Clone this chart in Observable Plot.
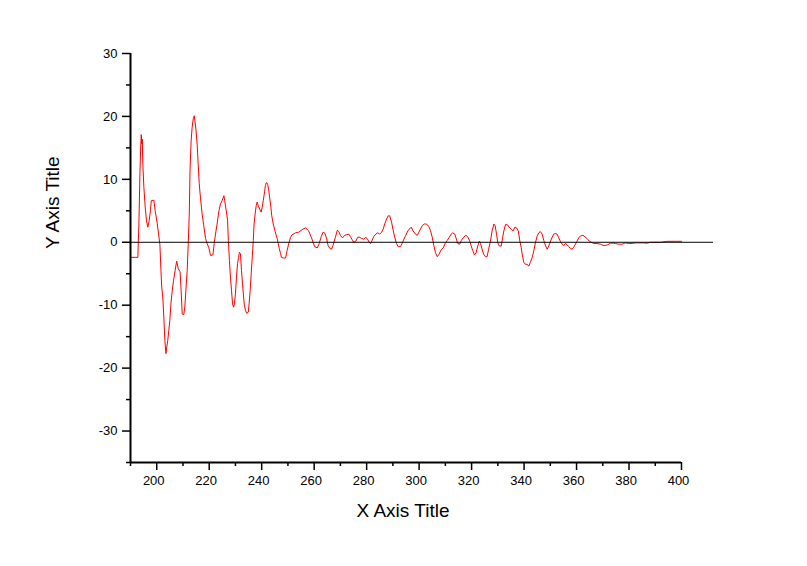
<!DOCTYPE html>
<html>
<head>
<meta charset="utf-8">
<script src="https://cdn.jsdelivr.net/npm/d3@7"></script>
<script src="https://cdn.jsdelivr.net/npm/@observablehq/plot@0.6"></script>
<style>
  html, body { margin: 0; padding: 0; background: #fff; }
  #chart svg { display: block; overflow: visible; }
</style>
</head>
<body>
<div id="chart"></div>
<script>
// ---- data ----
const xs = [190,192.8,193.2,193.6,193.9,194.1,194.3,194.5,194.7,195.1,195.6,196.1,196.6,197.1,197.6,197.9,198.9,199.4,200.2,200.7,201.2,201.6,201.9,202.3,202.7,203.1,203.5,203.8,204.2,204.6,205.0,205.4,205.9,206.4,207.0,207.6,208.2,208.9,209.3,209.7,210.3,210.7,211.1,211.6,212.0,212.4,212.7,213.1,213.5,213.9,214.3,214.7,215.0,215.4,215.8,216.2,216.7,217.3,217.9,218.6,219.2,219.8,220.5,221.4,221.9,222.4,223.0,223.7,224.3,224.9,225.6,225.9,226.5,227.0,227.3,227.7,228.1,228.5,228.9,229.3,229.6,230.0,230.4,230.8,231.2,231.5,231.9,232.3,232.7,233.1,233.4,233.8,234.3,234.9,235.2,235.6,236.0,236.4,236.8,237.1,237.5,237.9,238.3,238.7,239.2,239.8,240.2,240.6,241.1,241.4,241.8,242.3,242.7,243.1,243.5,243.8,244.4,244.9,245.4,245.9,246.3,246.7,247.2,247.5,248.3,249.1,249.7,250.3,251.0,251.6,252.9,254.1,255.4,256.7,257.9,258.9,259.6,260.2,261.2,261.9,262.7,263.4,264.0,264.7,265.3,266.0,266.6,267.2,268.1,268.8,269.4,270.0,270.8,271.6,272.3,273.2,273.8,274.5,275.1,275.9,276.6,277.4,278.1,278.9,279.7,280.3,281.0,281.5,282.1,282.7,283.5,284.2,285.0,285.7,286.3,286.9,287.6,288.2,288.8,289.5,290.1,290.7,291.4,292.0,292.9,293.5,294.2,294.9,295.7,296.3,297.0,297.7,298.6,299.3,299.9,300.5,301.3,302.0,302.8,303.7,304.3,305.0,305.6,306.2,306.9,307.6,308.4,309.2,309.9,310.7,311.5,312.2,312.8,313.6,314.2,314.7,315.5,316.1,317.0,317.8,318.5,319.2,319.8,320.4,321.1,321.7,322.4,323.0,323.4,324.0,324.6,325.3,325.9,326.5,327.2,327.8,328.5,329.0,329.5,330.0,330.6,331.3,331.8,332.3,332.9,333.6,334.3,335.1,335.8,336.5,337.1,337.8,338.4,338.9,339.4,339.9,340.5,341.2,341.8,342.4,343.1,343.7,344.3,345.0,345.6,346.2,346.9,347.5,348.2,348.8,349.4,350.1,350.7,351.3,352.0,352.6,353.2,353.9,354.5,355.1,355.8,356.4,357.0,357.7,358.3,358.9,359.6,360.2,360.8,361.5,362.4,363.1,364.0,364.8,365.6,366.6,367.8,369.1,370.1,371.1,371.9,372.9,374.0,374.8,376.1,377.4,378.6,379.9,381.2,382.5,383.7,385.6,386.9,388.2,392.0,394.6,397.7,400];
const ys = [-2.4,-2.4,2.9,11.1,15.3,17.1,15.6,16.4,12.4,8.7,5.6,3.4,2.4,3.4,5.0,6.6,6.7,5.0,3.0,1.3,-0.3,-4.5,-7.1,-8.7,-11.9,-15.6,-17.7,-16.7,-15.6,-14.0,-12.4,-9.8,-7.7,-6.1,-4.5,-3.0,-4.2,-4.7,-7.7,-11.4,-11.5,-10.3,-7.7,-4.5,-0.3,4.5,11.6,16.1,18.3,19.6,20.1,18.8,17.7,15.6,12.4,9.3,6.9,4.5,2.7,0.6,-0.2,-0.8,-2.1,-2.0,-0.2,1.3,2.9,5.0,6.1,6.6,7.4,6.6,5.0,3.5,0.3,-2.9,-5.5,-7.7,-9.8,-10.3,-9.8,-8.2,-5.5,-3.4,-2.4,-1.6,-1.8,-4.5,-6.6,-8.7,-10.0,-10.8,-11.3,-11.1,-9.8,-7.7,-5.0,-2.4,0.3,2.9,4.5,5.8,6.4,5.8,5.3,4.8,5.6,6.6,8.0,9.0,9.5,9.2,8.2,6.9,5.6,4.3,2.9,2.1,1.3,0.6,-0.2,-1.0,-1.8,-2.4,-2.5,-2.5,-1.3,-0.2,0.8,1.2,1.5,1.6,2.0,2.3,1.8,0.8,0.0,-0.7,-0.9,-0.2,0.9,1.6,1.5,0.7,-0.5,-1.0,-1.1,-0.5,0.8,1.9,1.7,1.1,0.7,1.1,1.2,1.3,0.9,0.4,0.0,0.2,0.8,0.8,0.6,0.5,0.8,0.5,0.0,-0.2,0.3,0.9,1.3,1.5,1.3,1.6,2.1,2.9,3.7,4.2,4.2,3.2,1.9,0.8,-0.2,-0.7,-0.7,-0.2,0.5,1.1,1.8,2.1,2.4,1.8,1.3,1.1,1.6,2.1,2.7,2.9,2.9,2.5,1.9,0.8,-0.5,-1.6,-2.3,-1.9,-1.2,-0.9,-0.2,0.3,0.8,1.3,1.5,1.3,0.5,-0.2,-0.3,0.3,0.8,1.1,0.9,0.3,-0.5,-1.3,-2.0,-1.7,-0.5,0.2,-0.2,-1.1,-1.9,-2.3,-2.3,-1.1,0.2,1.8,2.9,2.6,1.3,-0.1,-0.6,-0.6,0.7,1.8,2.8,2.8,2.4,2.1,1.8,2.4,2.3,1.8,0.2,-0.8,-2.2,-3.2,-3.5,-3.5,-3.8,-3.2,-2.4,-1.4,-0.1,1.0,1.5,1.7,1.3,0.3,-0.6,-1.1,-0.6,0.2,0.8,1.3,1.4,1.3,0.7,0.1,-0.3,-0.5,-0.2,-0.4,-0.7,-1.0,-1.1,-0.8,-0.3,0.2,0.7,1.0,1.1,0.9,0.6,0.2,0.0,-0.2,-0.2,-0.3,-0.5,-0.5,-0.4,-0.15,-0.15,-0.2,-0.3,-0.3,-0.1,-0.2,-0.2,-0.1,-0.1,-0.1,-0.15,0.0,0.0,0.15,0.15,0.15];

const xDomain = [190, 400];
const yDomain = [-35, 30];
const xMajor = [200, 220, 240, 260, 280, 300, 320, 340, 360, 380, 400];
const xMinor = [190, 210, 230, 250, 270, 290, 310, 330, 350, 370, 390];
const yMajor = [-30, -20, -10, 0, 10, 20, 30];
const yMinor = [-35, -25, -15, -5, 5, 15, 25];
const zeroLine = {y: 0, from: 190, to: 412.2};
const xTitle = "X Axis Title";
const yTitle = "Y Axis Title";

const fmt = d => String(d);

const chart = Plot.plot({
  width: 807,
  height: 566,
  marginLeft: 130,
  marginRight: 126,
  marginTop: 53,
  marginBottom: 104,
  style: {fontFamily: "'Liberation Sans', Arial, sans-serif", fontSize: "13px", background: "#fff", color: "#000"},
  x: {domain: xDomain},
  y: {domain: yDomain},
  marks: [
    Plot.line({length: xs.length}, {x: xs, y: ys, stroke: "#ff0000", strokeWidth: 1, curve: "linear"}),
    Plot.ruleY([zeroLine.y], {x1: zeroLine.from, x2: zeroLine.to, stroke: "#000", strokeWidth: 1}),
    Plot.ruleX([xDomain[0]], {y1: yDomain[0], y2: yDomain[1], stroke: "#000", strokeWidth: 2}),
    Plot.ruleY([yDomain[0]], {x1: xDomain[0], x2: xDomain[1], stroke: "#000", strokeWidth: 2}),
    Plot.axisX(xMajor, {anchor: "bottom", tickSize: 8, strokeWidth: 1.5, fill: "none", label: null}),
    Plot.axisX(xMajor, {anchor: "bottom", tickSize: 0, tickPadding: 13, stroke: "none", tickFormat: fmt, label: null, fontSize: 13, dx: -3}),
    Plot.axisX(xMinor, {anchor: "bottom", tickSize: 4, strokeWidth: 1.5, fill: "none", label: null}),
    Plot.axisY(yMajor, {anchor: "left", tickSize: 8, tickPadding: 5, strokeWidth: 1.5, tickFormat: fmt, label: null, fontSize: 13}),
    Plot.axisY(yMinor, {anchor: "left", tickSize: 4, strokeWidth: 1.5, fill: "none", label: null}),
    Plot.text([xTitle], {frameAnchor: "bottom", dx: -3, dy: 54, fontSize: 19, fill: "#000"}),
    Plot.text([yTitle], {frameAnchor: "left", rotate: -90, dx: -78, dy: -9, fontSize: 19, fill: "#000"})
  ]
});
document.getElementById("chart").appendChild(chart);
</script>
</body>
</html>
